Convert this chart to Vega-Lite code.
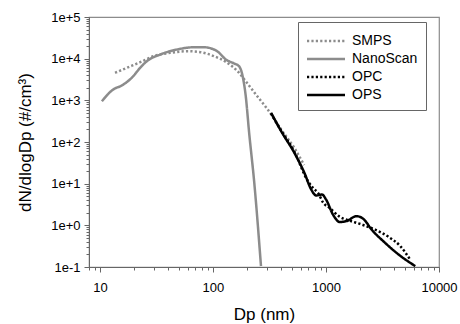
{
  "$schema": "https://vega.github.io/schema/vega-lite/v6.json",
  "width": 350,
  "height": 250,
  "autosize": "none",
  "padding": {"left": 89, "top": 17, "right": 21, "bottom": 57},
  "background": "white",
  "config": {
    "font": "Liberation Sans",
    "view": {"stroke": "#8c8c8c", "strokeWidth": 1.2}
  },
  "data": {
    "values": [
      {"series": "NanoScan", "dp": 10.4, "dn": 950},
      {"series": "NanoScan", "dp": 13.1, "dn": 1820},
      {"series": "NanoScan", "dp": 15.6, "dn": 2270},
      {"series": "NanoScan", "dp": 19.1, "dn": 3470},
      {"series": "NanoScan", "dp": 22.7, "dn": 6030},
      {"series": "NanoScan", "dp": 26, "dn": 8700},
      {"series": "NanoScan", "dp": 34.2, "dn": 12600},
      {"series": "NanoScan", "dp": 48.2, "dn": 16600},
      {"series": "NanoScan", "dp": 67.8, "dn": 18800},
      {"series": "NanoScan", "dp": 83.2, "dn": 18800},
      {"series": "NanoScan", "dp": 109, "dn": 15100},
      {"series": "NanoScan", "dp": 130, "dn": 9550},
      {"series": "NanoScan", "dp": 154, "dn": 7660},
      {"series": "NanoScan", "dp": 170, "dn": 6600},
      {"series": "NanoScan", "dp": 183, "dn": 3800},
      {"series": "NanoScan", "dp": 195, "dn": 1260},
      {"series": "NanoScan", "dp": 209, "dn": 166},
      {"series": "NanoScan", "dp": 232, "dn": 10.5},
      {"series": "NanoScan", "dp": 266, "dn": 0.105},
      {"series": "SMPS", "dp": 13.6, "dn": 4570},
      {"series": "SMPS", "dp": 17.3, "dn": 6030},
      {"series": "SMPS", "dp": 22.7, "dn": 8220},
      {"series": "SMPS", "dp": 29.9, "dn": 11500},
      {"series": "SMPS", "dp": 42, "dn": 13800},
      {"series": "SMPS", "dp": 59.2, "dn": 15100},
      {"series": "SMPS", "dp": 77.6, "dn": 14300},
      {"series": "SMPS", "dp": 102, "dn": 11500},
      {"series": "SMPS", "dp": 134, "dn": 7940},
      {"series": "SMPS", "dp": 165, "dn": 5000},
      {"series": "SMPS", "dp": 195, "dn": 2880},
      {"series": "SMPS", "dp": 240, "dn": 1380},
      {"series": "SMPS", "dp": 305, "dn": 603},
      {"series": "SMPS", "dp": 401, "dn": 200},
      {"series": "SMPS", "dp": 525, "dn": 72},
      {"series": "SMPS", "dp": 640, "dn": 28},
      {"series": "OPC", "dp": 327, "dn": 480},
      {"series": "OPC", "dp": 400, "dn": 190},
      {"series": "OPC", "dp": 525, "dn": 58},
      {"series": "OPC", "dp": 692, "dn": 11.5},
      {"series": "OPC", "dp": 768, "dn": 7.9},
      {"series": "OPC", "dp": 851, "dn": 6},
      {"series": "OPC", "dp": 944, "dn": 3.5},
      {"series": "OPC", "dp": 1080, "dn": 2.6},
      {"series": "OPC", "dp": 1325, "dn": 1.6},
      {"series": "OPC", "dp": 1574, "dn": 1.33},
      {"series": "OPC", "dp": 2065, "dn": 1.05},
      {"series": "OPC", "dp": 2716, "dn": 0.79},
      {"series": "OPC", "dp": 3570, "dn": 0.53},
      {"series": "OPC", "dp": 4530, "dn": 0.32},
      {"series": "OPC", "dp": 5560, "dn": 0.15},
      {"series": "OPS", "dp": 327, "dn": 500},
      {"series": "OPS", "dp": 401, "dn": 182},
      {"series": "OPS", "dp": 525, "dn": 55},
      {"series": "OPS", "dp": 645, "dn": 18},
      {"series": "OPS", "dp": 741, "dn": 7.2},
      {"series": "OPS", "dp": 820, "dn": 5.2},
      {"series": "OPS", "dp": 922, "dn": 5.5},
      {"series": "OPS", "dp": 1000, "dn": 4.2},
      {"series": "OPS", "dp": 1155, "dn": 1.8},
      {"series": "OPS", "dp": 1325, "dn": 1.2},
      {"series": "OPS", "dp": 1515, "dn": 1.26},
      {"series": "OPS", "dp": 1860, "dn": 1.66},
      {"series": "OPS", "dp": 2140, "dn": 1.43},
      {"series": "OPS", "dp": 2536, "dn": 0.79},
      {"series": "OPS", "dp": 3335, "dn": 0.38},
      {"series": "OPS", "dp": 4385, "dn": 0.2},
      {"series": "OPS", "dp": 6170, "dn": 0.105}
    ]
  },
  "mark": {"type": "line", "interpolate": "monotone", "strokeWidth": 2.5, "clip": true},
  "encoding": {
    "x": {
      "field": "dp", "type": "quantitative",
      "scale": {"type": "log", "domain": [8, 10000], "nice": false},
      "axis": {
        "title": "Dp (nm)",
        "titleFontSize": 17, "titleFontWeight": "normal", "titleColor": "black", "titlePadding": 12,
        "values": [8, 9, 10, 20, 30, 40, 50, 60, 70, 80, 90, 100, 200, 300, 400, 500, 600, 700, 800, 900, 1000, 2000, 3000, 4000, 5000, 6000, 7000, 8000, 9000, 10000],
        "labelExpr": "indexof([10,100,1000,10000], datum.value) >= 0 ? format(datum.value, 'd') : ''",
        "labelFontSize": 13, "labelColor": "black", "labelPadding": 9,
        "tickSize": {"condition": {"test": "indexof([10,100,1000,10000], datum.value) >= 0", "value": 5}, "value": 3},
        "tickColor": "#666", "domainColor": "#666", "grid": false, "labelFlush": false, "labelOverlap": false
      }
    },
    "y": {
      "field": "dn", "type": "quantitative",
      "scale": {"type": "log", "domain": [0.1, 100000], "nice": false},
      "axis": {
        "title": "dN/dlogDp (#/cm³)",
        "titleFontSize": 17, "titleFontWeight": "normal", "titleColor": "black", "titlePadding": 16,
        "values": [0.1,0.2,0.3,0.4,0.5,0.6,0.7,0.8,0.9,1,2,3,4,5,6,7,8,9,10,20,30,40,50,60,70,80,90,100,200,300,400,500,600,700,800,900,1000,2000,3000,4000,5000,6000,7000,8000,9000,10000,20000,30000,40000,50000,60000,70000,80000,90000,100000],
        "labelExpr": "indexof([0.1,1,10,100,1000,10000,100000], datum.value) >= 0 ? format(datum.value, '.0e') : ''",
        "labelFontSize": 13, "labelColor": "black", "labelPadding": 4,
        "tickSize": {"condition": {"test": "indexof([0.1,1,10,100,1000,10000,100000], datum.value) >= 0", "value": 5}, "value": 3},
        "tickColor": "#666", "domainColor": "#666", "grid": false, "labelFlush": false, "labelOverlap": false
      }
    },
    "color": {
      "field": "series", "type": "nominal",
      "scale": {"domain": ["SMPS", "NanoScan", "OPC", "OPS"], "range": ["#8c8c8c", "#8c8c8c", "#000000", "#000000"]},
      "legend": {
        "title": null, "orient": "none", "legendX": 209, "legendY": 5,
        "symbolType": "M-2,0H2", "symbolSize": 361, "symbolStrokeWidth": 2.5, "symbolOffset": 9,
        "labelFontSize": 14, "labelColor": "black", "labelFont": "Liberation Sans", "labelOffset": 15,
        "strokeColor": "#666", "fillColor": "white", "padding": 8, "rowPadding": 0
      }
    },
    "strokeDash": {
      "field": "series", "type": "nominal",
      "scale": {"domain": ["SMPS", "NanoScan", "OPC", "OPS"], "range": [[2.2, 2.2], [1, 0], [2.2, 2.2], [1, 0]]},
      "legend": null
    }
  }
}
